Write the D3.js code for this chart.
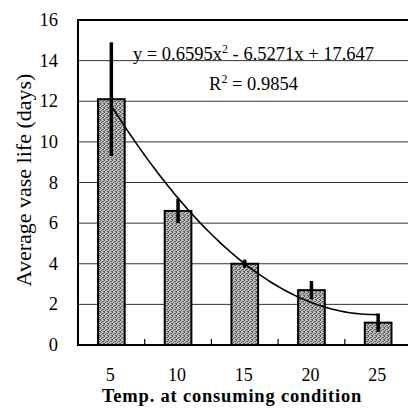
<!DOCTYPE html>
<html><head><meta charset="utf-8">
<script src="https://cdn.jsdelivr.net/npm/d3@7"></script>
<style>
html,body{margin:0;padding:0;background:#fff;}
svg{display:block;}
</style></head>
<body>
<svg id="chart" width="408" height="412" font-family="'Liberation Serif', 'DejaVu Serif', serif"></svg>
<script>
// ---- data ----
const categories = ["5", "10", "15", "20", "25"];
const values = [12.1, 6.6, 4.0, 2.7, 1.1];
const errors = [2.8, 0.6, 0.2, 0.45, 0.45];
const trendCoefs = [0.6595, -6.5271, 17.647]; // y = a x^2 + b x + c
const yTicks = [0, 2, 4, 6, 8, 10, 12, 14, 16];
const xTitle = "Temp. at consuming condition";
const yTitle = "Average vase life (days)";

(function () {
const svg = d3.select("#chart");
const pL = 78, pR = 411.5, pT = 20, pB = 345;
const FONT = "'Liberation Serif', 'DejaVu Serif', serif";

const x = d3.scaleBand().domain(categories).range([pL, pR]).paddingInner(0.6).paddingOuter(0.3);
const xb = d3.scaleBand().domain(categories).range([pL, pR]);
const y = d3.scaleLinear().domain([0, 16]).range([pB, pT]);

// pattern for stippled bars
const defs = svg.append("defs");
const pat = defs.append("pattern").attr("id", "stip").attr("patternUnits", "userSpaceOnUse")
  .attr("width", 4).attr("height", 4);
pat.append("rect").attr("width", 4).attr("height", 4).attr("fill", "#bdbdbd");
[[0,0],[2,1],[1,2],[3,3],[0,3],[3,1]].forEach(([px,py]) =>
  pat.append("rect").attr("x", px).attr("y", py).attr("width", 1).attr("height", 1).attr("fill", "#5a5a5a"));

// gridlines
svg.append("g").selectAll("line").data(yTicks.filter(d => d > 0 && d < 16)).join("line")
  .attr("x1", pL).attr("x2", pR).attr("y1", d => y(d)).attr("y2", d => y(d))
  .attr("stroke", "#333").attr("stroke-width", 1);

// bars
svg.append("g").selectAll("rect").data(values).join("rect")
  .attr("x", (d, i) => x(categories[i]))
  .attr("width", x.bandwidth())
  .attr("y", d => y(d))
  .attr("height", d => y(0) - y(d))
  .attr("fill", "url(#stip)")
  .attr("stroke", "#000").attr("stroke-width", 2);

// trendline
const curveX = d3.range(1, 5.0001, 0.05);
const trendPts = curveX.map(t => [
  xb(categories[0]) + xb.bandwidth() / 2 + (t - 1) * xb.step(),
  y(trendCoefs[0] * t * t + trendCoefs[1] * t + trendCoefs[2])
]);
svg.append("path").attr("d", d3.line()(trendPts))
  .attr("fill", "none").attr("stroke", "#000").attr("stroke-width", 1.6);

// error bars
svg.append("g").selectAll("line").data(values).join("line")
  .attr("x1", (d, i) => x(categories[i]) + x.bandwidth() / 2)
  .attr("x2", (d, i) => x(categories[i]) + x.bandwidth() / 2)
  .attr("y1", (d, i) => y(d + errors[i]))
  .attr("y2", (d, i) => y(d - errors[i]))
  .attr("stroke", "#000").attr("stroke-width", 3.5);

// axes frame
svg.append("line").attr("x1", pL).attr("x2", pR).attr("y1", pT).attr("y2", pT)
  .attr("stroke", "#000").attr("stroke-width", 2);
svg.append("line").attr("x1", pL).attr("x2", pL).attr("y1", pT - 1).attr("y2", pB + 1)
  .attr("stroke", "#000").attr("stroke-width", 2);
svg.append("line").attr("x1", pL).attr("x2", pR).attr("y1", pB).attr("y2", pB)
  .attr("stroke", "#000").attr("stroke-width", 2);

// x tick marks between categories
svg.append("g").selectAll("line").data(categories.slice(1)).join("line")
  .attr("x1", d => xb(d)).attr("x2", d => xb(d))
  .attr("y1", pB).attr("y2", pB - 6)
  .attr("stroke", "#000").attr("stroke-width", 1.2);

// y tick labels
svg.append("g").selectAll("text").data(yTicks).join("text")
  .attr("font-family", FONT)
  .attr("x", 58).attr("y", d => y(d) + 6)
  .attr("text-anchor", "end").attr("font-size", 18.5).text(d => d);

// x tick labels
svg.append("g").selectAll("text").data(categories).join("text")
  .attr("font-family", FONT)
  .attr("x", d => xb(d) + xb.bandwidth() / 2 - 1).attr("y", 381)
  .attr("text-anchor", "middle").attr("font-size", 18).text(d => d);

// titles
svg.append("text").attr("font-family", FONT).attr("x", 232).attr("y", 401.5).attr("text-anchor", "middle")
  .attr("font-size", 18.5).attr("font-weight", "bold").attr("letter-spacing", 0.8).text(xTitle);
svg.append("text").attr("font-family", FONT).attr("transform", "translate(31,180) rotate(-90)")
  .attr("text-anchor", "middle").attr("font-size", 22).text(yTitle);

// equation
const eq = svg.append("text").attr("font-family", FONT).attr("x", 253.5).attr("y", 60).attr("text-anchor", "middle").attr("font-size", 18.5);
eq.append("tspan").text("y = " + trendCoefs[0] + "x");
eq.append("tspan").attr("dy", -7).attr("font-size", 12).text("2");
eq.append("tspan").attr("dy", 7).text(" - " + Math.abs(trendCoefs[1]) + "x + " + trendCoefs[2]);
const r2 = svg.append("text").attr("font-family", FONT).attr("x", 253.5).attr("y", 90).attr("text-anchor", "middle").attr("font-size", 18.5);
r2.append("tspan").text("R");
r2.append("tspan").attr("dy", -7).attr("font-size", 12).text("2");
r2.append("tspan").attr("dy", 7).text(" = 0.9854");
})();
</script>
</body></html>
